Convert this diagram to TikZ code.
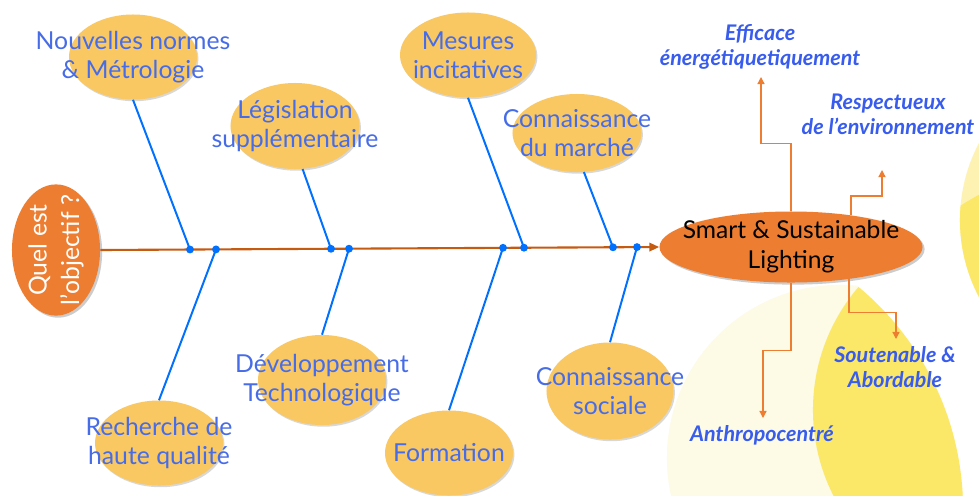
\documentclass[tikz,border=0pt]{standalone}
\usepackage{fontspec}
\setmainfont{Lato}
\usetikzlibrary{shapes.geometric,arrows.meta,shadows}
\definecolor{bonec}{RGB}{0,112,255}
\definecolor{spinec}{RGB}{197,90,17}
\definecolor{headc}{RGB}{237,125,49}
\definecolor{causec}{RGB}{250,200,99}
\definecolor{txtblue}{RGB}{70,108,232}
\definecolor{lblblue}{RGB}{55,92,238}
\definecolor{paleyel}{RGB}{253,250,229}
\definecolor{lensyel}{RGB}{252,232,104}
\definecolor{edgeyel}{RGB}{254,242,178}
\tikzset{
  cause/.style={ellipse, fill=causec, inner sep=0pt, minimum width=3.2cm, minimum height=2.125cm,
    drop shadow={shadow xshift=1pt, shadow yshift=-1.2pt, opacity=0.3}},
  causetext/.style={align=center, text=txtblue, font=\fontsize{17.6}{21}\selectfont},
  headnode/.style={ellipse, fill=headc, inner sep=0pt,
    drop shadow={shadow xshift=1.5pt, shadow yshift=-1.5pt, opacity=0.4}},
  effectlbl/.style={align=center, text=lblblue, font=\fontsize{15.3}{17.8}\selectfont\bfseries\itshape},
  bone/.style={draw=bonec, line width=1.4pt},
  outarrow/.style={draw=headc, line width=0.9pt, -{Triangle[length=5pt,width=5pt]}}
}
\begin{document}
\begin{tikzpicture}[x=0.025cm,y=-0.025cm]
\fill[white] (0,0) rectangle (979,495);
\useasboundingbox (0,0) rectangle (979,495);
% yellow discs behind the head
\begin{scope}
\clip (0,0) rectangle (979,495);
\begin{scope}
\clip (673,510) circle[radius=7.25cm];
\fill[paleyel] (840,458) circle[radius=4.325cm];
\fill[lensyel] (1002,410) circle[radius=4.725cm];
\end{scope}
\fill[edgeyel] (1125,220) circle[radius=4.125cm];
\begin{scope}
\clip (1100,420) circle[radius=6.39cm];
\fill[lensyel] (1125,220) circle[radius=4.125cm];
\end{scope}
\end{scope}

% head and tail
\node[headnode, minimum width=2.2cm, minimum height=3.28cm] (oq) at (56,250) {};
\node[rotate=90, align=center, text=white, font=\fontsize{17.6}{23}\selectfont] at (oq) {Quel est\\l’objectif ?};
\node[headnode, minimum width=6.575cm, minimum height=1.775cm] (ssl) at (791,247) {};
\node[align=center, font=\fontsize{17.5}{21.5}\selectfont] at (ssl) {Smart \& Sustainable\\Lighting};
\draw[spinec, line width=1.5pt, -{Triangle[length=7pt,width=6pt]}] (oq.east) -- (ssl.west);

% causes
\node[cause] (nm) at (133,57) {};
\node[causetext] at (nm) {Nouvelles normes\\\& Métrologie};
\node[cause, minimum width=3.225cm, minimum height=2.15cm] (ls) at (295,126) {};
\node[causetext] at (ls) {Législation\\supplémentaire};
\node[cause, minimum width=3.4cm] (mi) at (468,55) {};
\node[causetext] at (mi) {Mesures\\incitatives};
\node[cause, minimum width=3.225cm, minimum height=1.95cm] (cm) at (577,133) {};
\node[causetext] at (cm) {Connaissance\\du marché};
\node[cause] (rq) at (159,443) {};
\node[causetext] at (rq) {Recherche de\\haute qualité};
\node[cause, minimum height=2.25cm] (dt) at (322,380) {};
\node[causetext] at (dt) {Développement\\Technologique};
\node[cause] (fo) at (449,453) {};
\node[causetext] at (fo) {Formation};
\node[cause, minimum width=3.175cm, minimum height=2.425cm] (cs) at (610,391) {};
\node[causetext] at (cs) {Connaissance\\sociale};

% bones
\coordinate (d1) at (190,249.5);
\coordinate (d5) at (216,249.4);
\coordinate (d2) at (331,248.8);
\coordinate (d6) at (349,248.7);
\coordinate (d7) at (503,247.8);
\coordinate (d3) at (524,247.7);
\coordinate (d4) at (613,247.3);
\coordinate (d8) at (637,247.1);
\draw[bone] (d1) -- (nm.south) (d2) -- (ls.-80) (d3) -- (mi.south) (d4) -- (cm.-80);
\draw[bone] (d5) -- (rq.north) (d6) -- (dt.north) (d7) -- (fo.north) (d8) -- (cs.north);
\foreach \d in {d1,d2,d3,d4,d5,d6,d7,d8}
  \fill[bonec] (\d) circle[radius=2.8pt];

% effects
\node[effectlbl] (eff) at (760,47) {Efficace\\énergétiquetiquement};
\node[effectlbl] (resp) at (888,114) {Respectueux\\de l’environnement};
\node[effectlbl] (sout) at (895,367) {Soutenable \&\\Abordable};
\node[effectlbl] (anth) at (762,435) {Anthropocentré};
\coordinate (effarr) at (761,77);
\coordinate (resparr) at (882,170);
\coordinate (soutarr) at (896,339);
\coordinate (antharr) at (763,418);
\draw[outarrow] (ssl.north) -- ++(0,-68) -| (effarr);
\draw[outarrow] (ssl.28) -- ++(0,-19) -| (resparr);
\draw[outarrow] (ssl.-29) -- ++(0,33) -| (soutarr);
\draw[outarrow] (ssl.south) -- ++(0,68) -| (antharr);
\end{tikzpicture}
\end{document}
